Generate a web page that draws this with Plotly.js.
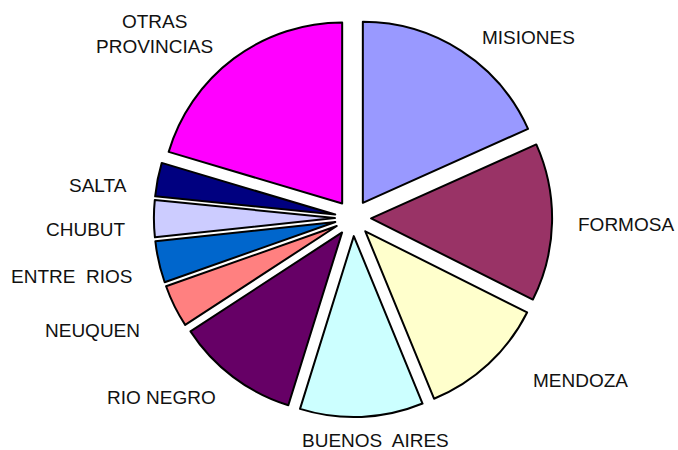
<!DOCTYPE html>
<html>
<head>
<meta charset="utf-8">
<script src="https://cdn.plot.ly/plotly-3.0.1.min.js"></script>
<style>html,body{margin:0;padding:0;background:#fff;}#chart{width:678px;height:450px;}</style>
</head>
<body>
<div id="chart"></div>
<script>
// Data (percent share)
var provincias = ["MISIONES", "FORMOSA", "MENDOZA", "BUENOS AIRES", "RIO NEGRO",
                  "NEUQUEN", "ENTRE RIOS", "CHUBUT", "SALTA", "OTRAS PROVINCIAS"];
var valores = [18.3, 14.1, 11.4, 11.0, 11.0, 3.8, 3.7, 3.3, 3.0, 20.4];
var etiquetas = ["MISIONES", "FORMOSA", "MENDOZA", "BUENOS\u00a0 AIRES", "RIO NEGRO",
                 "NEUQUEN", "ENTRE\u00a0 RIOS", "CHUBUT", "SALTA", "OTRAS<br>PROVINCIAS"];

// Styles / label placement (pixels in the 678x450 page)
var colores = ["#9999FF", "#993366", "#FFFFCC", "#CCFFFF", "#660066",
               "#FF8080", "#0066CC", "#CCCCFF", "#000080", "#FF00FF"];
var labelPos = [[528, 38], [626, 224], [580, 380], [375, 440], [161, 397],
                [92, 330], [71, 276], [86, 230], [98, 185], [154, 34]];

var W = 678, H = 450;
var cx = 353, cy = 218, r = 181, pull = 0.1;
var half = r * (1 + pull);

var trace = {
  type: "pie",
  labels: provincias,
  values: valores,
  sort: false,
  direction: "clockwise",
  rotation: 0,
  pull: valores.map(function(){ return pull; }),
  marker: {colors: colores, line: {color: "#000000", width: 2}},
  textinfo: "none",
  hoverinfo: "skip",
  showlegend: false,
  domain: {
    x: [(cx - half) / W, (cx + half) / W],
    y: [1 - (cy + half) / H, 1 - (cy - half) / H]
  }
};

var annotations = etiquetas.map(function(t, i){
  return {
    text: t, xref: "paper", yref: "paper",
    x: labelPos[i][0] / W, y: 1 - labelPos[i][1] / H,
    xanchor: "center", yanchor: "middle", showarrow: false, align: "center",
    font: {family: "Liberation Sans, Arial, sans-serif", size: 19, color: "#111111"}
  };
});

var layout = {
  width: W, height: H,
  margin: {l: 0, r: 0, t: 0, b: 0},
  paper_bgcolor: "#ffffff",
  plot_bgcolor: "#ffffff",
  showlegend: false,
  annotations: annotations
};

Plotly.newPlot("chart", [trace], layout, {displayModeBar: false, staticPlot: true});
</script>
</body>
</html>
